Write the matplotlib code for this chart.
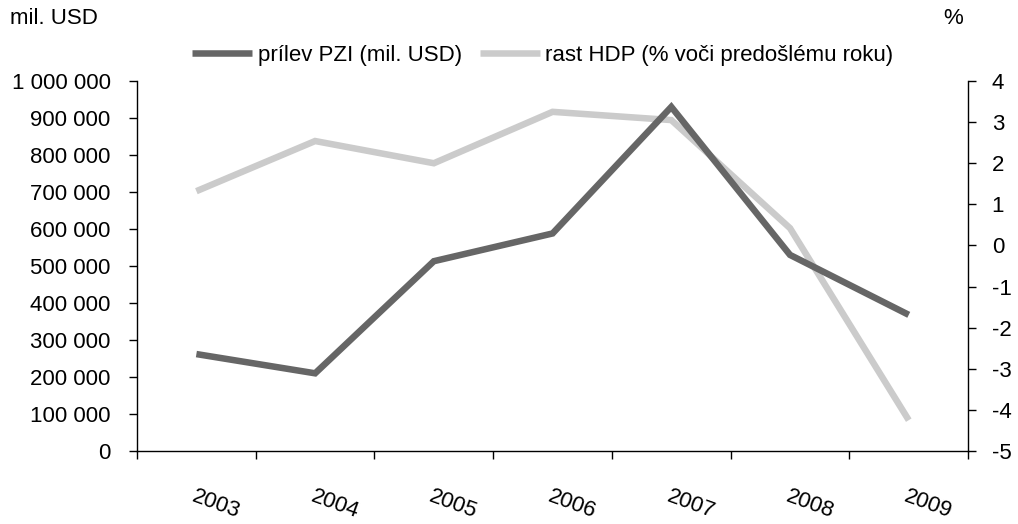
import matplotlib
matplotlib.use("Agg")
import matplotlib.pyplot as plt
from matplotlib.ticker import FixedLocator, FuncFormatter

plt.rcParams['font.family'] = ['Liberation Sans', 'DejaVu Sans']
plt.rcParams['axes.unicode_minus'] = False

years = ["2003", "2004", "2005", "2006", "2007", "2008", "2009"]
pzi = [262000, 210000, 513000, 588000, 930000, 530000, 368000]
hdp = [1.32, 2.54, 2.0, 3.25, 3.05, 0.42, -4.25]

dark = "#666666"
light = "#cbcbcb"
fs = 16

fig = plt.figure(figsize=(10.18, 5.24), dpi=100)
ax = fig.add_axes([0.1346, 0.1393, 0.951 - 0.1346, 0.8454 - 0.1393])
ax2 = ax.twinx()

x = list(range(len(years)))
l1, = ax.plot(x, pzi, color=dark, lw=4.7, solid_capstyle="butt",
              solid_joinstyle="miter", zorder=3)
l2, = ax2.plot(x, hdp, color=light, lw=4.7, solid_capstyle="butt",
               solid_joinstyle="miter", zorder=2)
ax.set_zorder(ax2.get_zorder() + 1)
ax.patch.set_visible(False)

ax.set_xlim(-0.5, len(years) - 0.5)
ax.set_ylim(0, 1000000)
ax2.set_ylim(-5, 4)

# left axis
ax.yaxis.set_major_locator(FixedLocator(range(0, 1000001, 100000)))
ax.yaxis.set_major_formatter(FuncFormatter(lambda v, p: f"{int(v):,}".replace(",", " ")))
ax.tick_params(axis="y", direction="out", length=6, width=1, pad=13, labelsize=fs)

# right axis
ax2.yaxis.set_major_locator(FixedLocator(range(-5, 5)))
ax2.yaxis.set_major_formatter(FuncFormatter(lambda v, p: f"{int(v)}"))
ax2.tick_params(axis="y", direction="out", length=6, width=1, pad=11, labelsize=fs)

# category axis: ticks on boundaries, labels in the middle
ax.xaxis.set_major_locator(FixedLocator([i - 0.5 for i in range(len(years) + 1)]))
ax.xaxis.set_major_formatter(FuncFormatter(lambda v, p: ""))
ax.xaxis.set_minor_locator(FixedLocator(x))
ax.set_xticklabels(years, minor=True)
ax.tick_params(axis="x", which="major", direction="out", length=6, width=1)
ax.tick_params(axis="x", which="minor", length=0, pad=25, labelsize=fs)
for lab in ax.get_xticklabels(minor=True):
    lab.set_rotation(-20)
    lab.set_rotation_mode("anchor")
    lab.set_ha("left")
    lab.set_va("top")

for a in (ax, ax2):
    a.spines["top"].set_visible(False)
    for s in a.spines.values():
        s.set_linewidth(1)
ax.spines["right"].set_visible(False)
ax2.spines["left"].set_visible(False)
ax2.spines["bottom"].set_visible(False)

fig.text(10 / 1018, 1 - 18 / 524, "mil. USD", fontsize=fs, ha="left", va="center")
fig.text(953 / 1018, 1 - 18 / 524, "%", fontsize=fs, ha="center", va="center")

fig.legend([l1, l2], ["prílev PZI (mil. USD)", "rast HDP (% voči predošlému roku)"],
           loc="center", bbox_to_anchor=(543 / 1018, 1 - 55 / 524), ncol=2,
           frameon=False, fontsize=fs, handlelength=2.7, handletextpad=0.25,
           columnspacing=0.8)

fig.savefig("out.png", dpi=100)
